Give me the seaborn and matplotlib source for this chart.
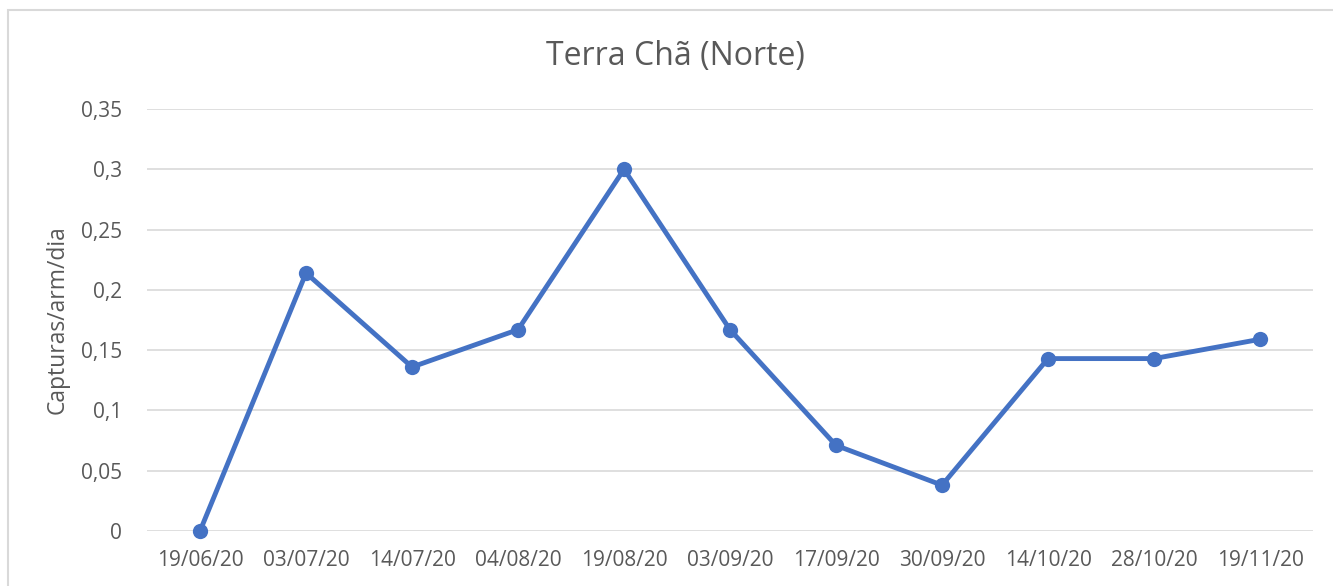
import seaborn as sns
import pandas as pd
import matplotlib.pyplot as plt
from matplotlib.patches import Rectangle

dates = ["19/06/20", "03/07/20", "14/07/20", "04/08/20", "19/08/20", "03/09/20",
         "17/09/20", "30/09/20", "14/10/20", "28/10/20", "19/11/20"]
capturas = [0, 0.214, 0.136, 0.167, 0.300, 0.167, 0.071, 0.038, 0.143, 0.143, 0.159]
yticks = [0, 0.05, 0.1, 0.15, 0.2, 0.25, 0.3, 0.35]

sns.set_theme(style="white")
plt.rcParams['font.family'] = ['Open Sans', 'DejaVu Sans']

grey = "#595959"
blue = "#4472C4"

data = pd.DataFrame({"data": dates, "capturas": capturas})

fig = plt.figure(figsize=(13.33, 5.86), dpi=100)
ax = fig.add_axes([0.1103, 0.0939, 0.8747, 0.720])

sns.lineplot(data=data, x="data", y="capturas", sort=False, color=blue,
             linewidth=3.5, marker="o", markersize=11, markeredgewidth=0,
             ax=ax, zorder=3, clip_on=False)

ax.set_xlim(-0.5, len(dates) - 0.5)
ax.set_ylim(0, 0.35)
ax.set_yticks(yticks)
ax.set_yticklabels([("%g" % t).replace(".", ",") for t in yticks])
ax.set_xticks(range(len(dates)))
ax.set_xticklabels(dates)
ax.yaxis.grid(True, color="#D9D9D9", linewidth=1.2)
ax.set_axisbelow(True)
for s in ax.spines.values():
    s.set_visible(False)
ax.tick_params(axis="both", colors=grey, labelsize=15, length=0)
ax.tick_params(axis="y", pad=18)
ax.tick_params(axis="x", pad=14)
for lbl in ax.get_xticklabels() + ax.get_yticklabels():
    lbl.set_color(grey)
ax.set_xlabel("")
ax.set_ylabel("Capturas/arm/dia", color=grey, fontsize=16.5, labelpad=8)
fig.text(675 / 1333, 1 - 57 / 586, "Terra Chã (Norte)", color=grey, fontsize=23,
         ha="center", va="center")

# chart area border (cropped at right and bottom)
fig.patches.append(Rectangle((8 / 1333, -0.1), 1.2, 1.1 - 10 / 586,
                             transform=fig.transFigure, fill=False,
                             edgecolor="#D9D9D9", linewidth=1.5, zorder=0))

fig.savefig("out.png", dpi=100)
